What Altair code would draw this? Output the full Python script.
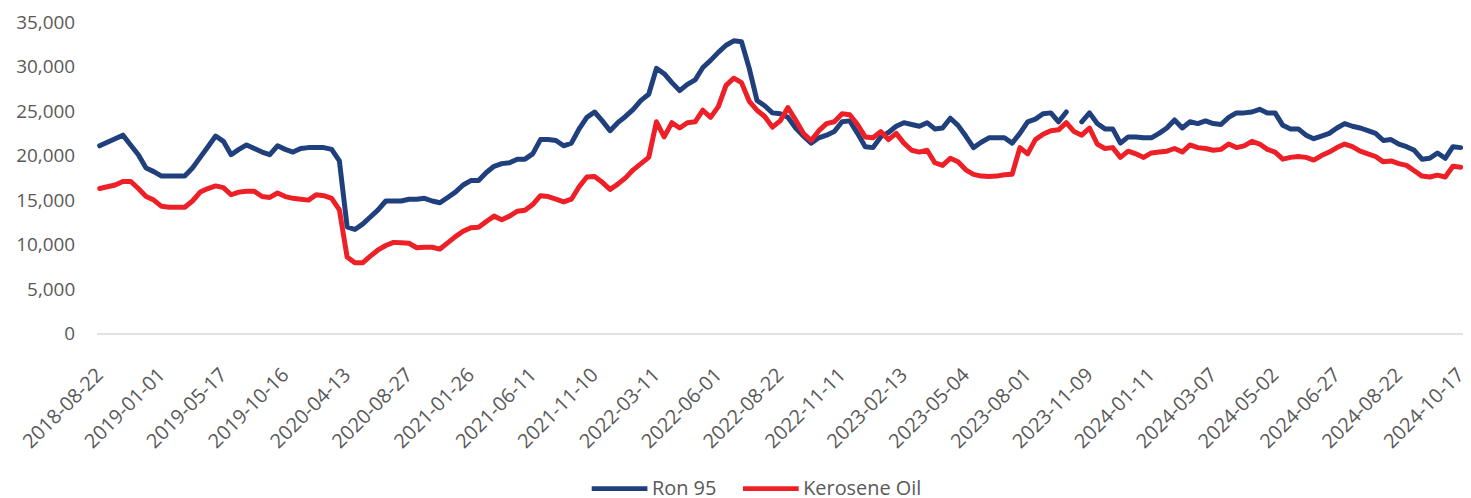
import altair as alt
import pandas as pd
import json

# x-axis tick labels (every 8th weekly observation)
tick_labels = [
    "2018-08-22", "2019-01-01", "2019-05-17", "2019-10-16", "2020-04-13",
    "2020-08-27", "2021-01-26", "2021-06-11", "2021-11-10", "2022-03-11",
    "2022-06-01", "2022-08-22", "2022-11-11", "2023-02-13", "2023-05-04",
    "2023-08-01", "2023-11-09", "2024-01-11", "2024-03-07", "2024-05-02",
    "2024-06-27", "2024-08-22", "2024-10-17",
]
label_step = 8

series_names = ["Ron 95", "Kerosene Oil"]
series_colors = ["#1F3F7D", "#EE2027"]

ron95 = [
    21100, 21500, 21900, 22300, 21200, 20100, 18600, 18200, 17700, 17700,
    17700, 17700, 18600, 19800, 21000, 22200, 21600, 20100, 20700, 21200,
    20800, 20400, 20100, 21100, 20700, 20400, 20800, 20900, 20900, 20900,
    20700, 19400, 12000, 11700, 12300, 13100, 13900, 14900, 14900, 14900,
    15100, 15100, 15200, 14900, 14700, 15300, 15900, 16700, 17200, 17200,
    18100, 18800, 19100, 19200, 19600, 19600, 20200, 21800, 21800, 21700,
    21100, 21400, 23000, 24300, 24900, 23900, 22800, 23700, 24400, 25200,
    26200, 26900, 29800, 29200, 28200, 27300, 28000, 28500, 29900, 30700,
    31600, 32400, 32900, 32800, 29800, 26200, 25600, 24800, 24700, 24300,
    23100, 22200, 21400, 22000, 22300, 22700, 23800, 23900, 22500, 21000,
    20900, 22100, 22600, 23300, 23700, 23500, 23300, 23700, 23000, 23100,
    24200, 23400, 22200, 20900, 21500, 22000, 22000, 22000, 21400, 22500,
    23800, 24100, 24700, 24800, 23800, 24900, None, 23800, 24800, 23600,
    23000, 23000, 21400, 22100, 22100, 22000, 22000, 22500, 23100, 24000,
    23100, 23800, 23600, 23900, 23600, 23500, 24300, 24800, 24800, 24900,
    25200, 24800, 24800, 23400, 23000, 23000, 22300, 21900, 22200, 22500,
    23100, 23600, 23300, 23100, 22800, 22500, 21700, 21800, 21300, 21000,
    20600, 19600, 19700, 20300, 19700, 21000, 20900,
]

kerosene = [
    16300, 16500, 16700, 17100, 17100, 16300, 15400, 15000, 14300, 14200,
    14200, 14200, 14900, 15900, 16300, 16600, 16400, 15600, 15900, 16000,
    16000, 15400, 15300, 15800, 15400, 15200, 15100, 15000, 15600, 15500,
    15200, 13900, 8600, 7950, 7950, 8700, 9400, 9900, 10250, 10200,
    10150, 9650, 9700, 9700, 9500, 10200, 10900, 11500, 11900, 11950,
    12600, 13200, 12800, 13200, 13750, 13850, 14500, 15500, 15400, 15100,
    14800, 15100, 16500, 17600, 17650, 17000, 16200, 16800, 17500, 18400,
    19100, 19800, 23800, 22100, 23700, 23100, 23700, 23800, 25100, 24300,
    25500, 27900, 28700, 28200, 26100, 25100, 24400, 23200, 23900, 25400,
    24000, 22500, 21700, 22800, 23600, 23800, 24700, 24600, 23500, 22100,
    22000, 22700, 21800, 22500, 21400, 20600, 20400, 20600, 19200, 18900,
    19700, 19300, 18400, 17900, 17700, 17650, 17700, 17850, 17900, 20900,
    20200, 21800, 22400, 22800, 22900, 23700, 22700, 22300, 23100, 21300,
    20800, 20900, 19800, 20500, 20200, 19800, 20300, 20400, 20500, 20800,
    20400, 21200, 20900, 20800, 20600, 20700, 21300, 20900, 21100, 21600,
    21300, 20700, 20400, 19600, 19800, 19900, 19800, 19500, 20000, 20400,
    20900, 21300, 21000, 20500, 20200, 19900, 19300, 19400, 19100, 18900,
    18300, 17700, 17600, 17800, 17600, 18800, 18700,
]

rows = []
for i, v in enumerate(ron95):
    rows.append({"idx": i, "series": series_names[0], "value": v})
for i, v in enumerate(kerosene):
    rows.append({"idx": i, "series": series_names[1], "value": v})
df = pd.DataFrame(rows)

n = len(ron95)
tick_vals = list(range(0, n, label_step))
label_expr = json.dumps(tick_labels) + f"[round(datum.value / {label_step})]"

FONT = "Open Sans"
GREY = "#595959"

chart = alt.Chart(df).mark_line(
    strokeWidth=5, strokeJoin="round", strokeCap="round",
    invalid="break-paths-show-domains",
).encode(
    x=alt.X(
        "idx:Q",
        scale=alt.Scale(domain=[-0.4, n - 1 + 0.3], nice=False, zero=False),
        axis=alt.Axis(
            title=None, values=tick_vals, labelExpr=label_expr,
            labelAngle=-45, labelAlign="right", labelBaseline="middle",
            labelPadding=38, ticks=False, grid=False,
            domain=True, domainColor="#D9D9D9", domainWidth=1.5,
            labelFont=FONT, labelFontSize=20, labelColor=GREY,
            labelOverlap=False, labelBound=False, labelFlush=False,
        ),
    ),
    y=alt.Y(
        "value:Q",
        scale=alt.Scale(domain=[0, 35000], nice=False),
        axis=alt.Axis(
            title=None, values=list(range(0, 35001, 5000)), format=",.0f",
            grid=False, ticks=False, domain=False, labelPadding=22,
            labelFont=FONT, labelFontSize=19, labelColor=GREY,
        ),
    ),
    color=alt.Color(
        "series:N",
        scale=alt.Scale(domain=series_names, range=series_colors),
        legend=alt.Legend(
            title=None, orient="none", legendX=495, legendY=438,
            direction="horizontal", symbolType="stroke",
            symbolSize=3136, symbolStrokeWidth=5,
            labelFont=FONT, labelFontSize=20, labelColor=GREY,
            labelOffset=2, columnPadding=16, padding=0,
        ),
    ),
    order=alt.Order("idx:Q"),
).properties(
    width=1373, height=313,
    autosize=alt.AutoSizeParams(type="none"),
    padding={"left": 89, "top": 13, "right": 0, "bottom": 164},
).configure_view(stroke=None)

chart.save("out.html", embed_options={"renderer": "svg", "actions": False})
